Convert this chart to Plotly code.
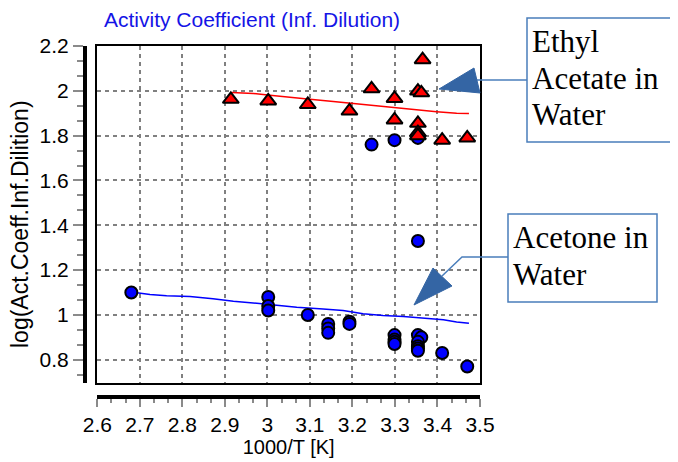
import plotly.graph_objects as go

# ---------------- data ----------------
acetone_x = [2.680, 3.002, 3.002, 3.002, 3.095, 3.143, 3.143, 3.143, 3.193, 3.193,
             3.299, 3.299, 3.299, 3.299, 3.354, 3.362, 3.354, 3.354, 3.354, 3.354,
             3.411, 3.470, 3.354, 3.245, 3.299, 3.354]
acetone_y = [1.10, 1.08, 1.04, 1.02, 1.00, 0.96, 0.94, 0.92, 0.97, 0.96,
             0.91, 0.89, 0.88, 0.87, 0.91, 0.90, 0.88, 0.86, 0.85, 0.84,
             0.83, 0.77, 1.33, 1.76, 1.78, 1.79]

etac_x = [2.914, 3.002, 3.095, 3.193, 3.245, 3.299, 3.299, 3.354, 3.362, 3.365,
          3.354, 3.354, 3.354, 3.411, 3.470]
etac_y = [1.962, 1.955, 1.939, 1.910, 2.009, 1.966, 1.870, 1.999, 1.991, 2.139,
          1.855, 1.813, 1.800, 1.780, 1.790]

etac_model_x = [2.916, 2.967, 3.006, 3.053, 3.100, 3.155, 3.202, 3.257, 3.304, 3.351, 3.398, 3.445, 3.474]
etac_model_y = [1.992, 1.988, 1.980, 1.970, 1.962, 1.952, 1.943, 1.933, 1.925, 1.916, 1.907, 1.900, 1.899]

acetone_model_x = [2.684, 2.724, 2.763, 2.818, 2.872, 2.920, 2.975, 3.022, 3.069, 3.131, 3.178,
                   3.225, 3.272, 3.320, 3.367, 3.414, 3.445, 3.474]
acetone_model_y = [1.101, 1.091, 1.086, 1.082, 1.072, 1.061, 1.052, 1.042, 1.034, 1.027, 1.020,
                   1.005, 0.997, 0.993, 0.985, 0.978, 0.969, 0.963]

x_range = [2.6, 3.5]
y_range = [0.695, 2.2]

title_text = "Activity Coefficient (Inf. Dilution)"
x_title = "1000/T [K]"
y_title = "log(Act.Coeff.Inf.Dilition)"
label_etac = ["Ethyl", "Acetate in", "Water"]
label_acetone = ["Acetone in", "Water"]

# ---------------- layout geometry ----------------
OFF = 8
W_PX, H_PX = 678 - OFF, 462 - OFF
L = 85 - OFF           # free y axis line at window x = 85
B = 462 - 397          # free x axis line at window y = 397
R, T = 198, 46 - OFF
PW = W_PX - L - R
PH = H_PX - T - B


def px(x):
    return (x - OFF - L) / PW


def py(y):
    return (H_PX - B - (y - OFF)) / PH


SANS = "Arial, Liberation Sans, sans-serif"
SERIF = "Times New Roman, Liberation Serif, serif"
CALLOUT = "#4a7ebb"
ARROW = "#3465a4"

fig = go.Figure()

fig.add_trace(go.Scatter(x=acetone_model_x, y=acetone_model_y, mode="lines",
                         line=dict(color="#0000ff", width=1.5), showlegend=False))
fig.add_trace(go.Scatter(x=etac_model_x, y=etac_model_y, mode="lines",
                         line=dict(color="#ff0000", width=1.5), showlegend=False))
fig.add_trace(go.Scatter(x=acetone_x, y=acetone_y, mode="markers",
                         marker=dict(symbol="circle", size=12, color="#0000ff",
                                     line=dict(color="black", width=2)),
                         showlegend=False))
fig.add_trace(go.Scatter(x=etac_x, y=etac_y, mode="markers",
                         marker=dict(symbol="triangle-up", size=14, color="#ff0000",
                                     line=dict(color="black", width=2)),
                         showlegend=False))

xdom = [px(97.3), 1.0]
ydom = [py(383.3), 1.0]

grid = dict(showgrid=True, gridcolor="#808080", griddash="4px,4px", gridwidth=2,
            zeroline=False, showline=True, linecolor="black", linewidth=2, mirror=True,
            showticklabels=False, ticks="")

fig.update_layout(
    width=W_PX, height=H_PX,
    margin=dict(l=L, r=R, t=T, b=B, autoexpand=False),
    paper_bgcolor="white", plot_bgcolor="white",
    font=dict(family=SANS, color="black", size=21),
    xaxis=dict(domain=xdom, range=x_range, tick0=2.6, dtick=0.1, **grid),
    yaxis=dict(domain=ydom, range=y_range, tick0=0.8, dtick=0.2, **grid),
    xaxis2=dict(overlaying="x", matches="x", anchor="free", position=0, range=x_range,
                tick0=2.6, dtick=0.1, showgrid=False, zeroline=False,
                showline=True, linecolor="black", linewidth=4,
                ticks="outside", ticklen=8, tickwidth=2, tickcolor="#8a8a8a",
                minor=dict(tick0=2.6, dtick=0.1 / 3, ticks="outside", ticklen=4,
                           tickwidth=2, tickcolor="#8a8a8a", showgrid=False),
                tickfont=dict(size=21),
                title=dict(text=x_title, font=dict(size=20), standoff=0)),
    yaxis2=dict(overlaying="y", matches="y", anchor="free", position=0, side="left",
                range=y_range, tick0=0.8, dtick=0.2, showgrid=False, zeroline=False,
                showline=True, linecolor="black", linewidth=4,
                ticks="outside", ticklen=10, tickwidth=2, tickcolor="#8a8a8a",
                minor=dict(tick0=0.8, dtick=0.2 / 3, ticks="outside", ticklen=6,
                           tickwidth=2, tickcolor="#8a8a8a", showgrid=False),
                tickfont=dict(size=21)),
)

fig.add_trace(go.Scatter(x=[], y=[], xaxis="x2", yaxis="y2", showlegend=False, hoverinfo="skip"))

annotations = [
    dict(text=title_text, x=px(102), y=py(19), xref="paper", yref="paper",
         xanchor="left", yanchor="middle", showarrow=False,
         font=dict(family=SANS, size=21, color="#1414e6")),
    dict(text=y_title, x=px(20), y=py(224), xref="paper", yref="paper", textangle=-90,
         xanchor="center", yanchor="middle", showarrow=False,
         font=dict(family=SANS, size=23, color="black")),
]
for i, t in enumerate(label_etac):
    annotations.append(dict(text=t, x=px(530), y=py(42 + 36 * i), xref="paper", yref="paper",
                            xanchor="left", yanchor="middle", showarrow=False,
                            font=dict(family=SERIF, size=31, color="black")))
for i, t in enumerate(label_acetone):
    annotations.append(dict(text=t, x=px(511), y=py(237 + 37 * i), xref="paper", yref="paper",
                            xanchor="left", yanchor="middle", showarrow=False,
                            font=dict(family=SERIF, size=31, color="black")))
fig.update_layout(annotations=annotations)


def pth(points):
    return "M " + " L ".join(f"{px(a):.5f},{py(b):.5f}" for a, b in points) + " Z"


shapes = [
    dict(type="rect", xref="paper", yref="paper", x0=px(527), x1=px(674), y0=py(18), y1=py(142),
         line=dict(color=CALLOUT, width=1.5), fillcolor="rgba(0,0,0,0)"),
    dict(type="rect", xref="paper", yref="paper", x0=px(508), x1=px(657), y0=py(214), y1=py(302),
         line=dict(color=CALLOUT, width=1.5), fillcolor="rgba(0,0,0,0)"),
    dict(type="line", xref="paper", yref="paper", x0=px(527), x1=px(476), y0=py(80), y1=py(80),
         line=dict(color=CALLOUT, width=1.5)),
    dict(type="path", xref="paper", yref="paper",
         path="M {:.5f},{:.5f} L {:.5f},{:.5f} L {:.5f},{:.5f}".format(
             px(508), py(257), px(462), py(257), px(442), py(276)),
         line=dict(color=CALLOUT, width=1.5)),
    dict(type="path", xref="paper", yref="paper", path=pth([(439, 89), (474, 68), (480, 93)]),
         fillcolor=ARROW, line=dict(color=ARROW, width=1)),
    dict(type="path", xref="paper", yref="paper", path=pth([(433, 268), (452, 286), (414, 305)]),
         fillcolor=ARROW, line=dict(color=ARROW, width=1)),
]
fig.update_layout(shapes=shapes)

fig.write_html("out.html")
